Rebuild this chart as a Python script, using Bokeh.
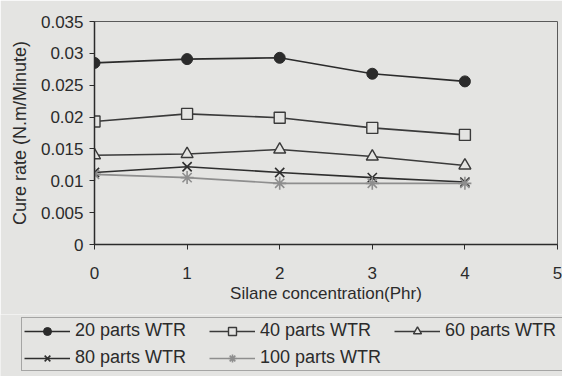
from bokeh.plotting import figure
from bokeh.models import Legend, LegendItem, FixedTicker, Range1d
from bokeh.embed import file_html
from bokeh.resources import INLINE

silane = [0, 1, 2, 3, 4]
wtr20 = [0.0285, 0.0291, 0.0293, 0.0268, 0.0256]
wtr40 = [0.0193, 0.0205, 0.0199, 0.0183, 0.0172]
wtr60 = [0.0140, 0.0142, 0.0149, 0.0138, 0.0124]
wtr80 = [0.0113, 0.0122, 0.0113, 0.0105, 0.0098]
wtr100 = [0.0110, 0.0105, 0.0096, 0.0096, 0.0096]
names = ["20 parts WTR", "40 parts WTR", "60 parts WTR", "80 parts WTR", "100 parts WTR"]
x_ticks = [0, 1, 2, 3, 4, 5]
y_ticks = [0, 0.005, 0.01, 0.015, 0.02, 0.025, 0.03, 0.035]
y_tick_labels = ["0", "0.005", "0.01", "0.015", "0.02", "0.025", "0.03", "0.035"]

BG = "#e4e4e2"
INK = "#2b2b2b"
FONT = "Liberation Sans"

p = figure(width=562, height=314, output_backend="svg", toolbar_location=None,
           x_range=Range1d(0, 5), y_range=Range1d(0, 0.035),
           min_border_left=94, min_border_right=5, min_border_top=21, min_border_bottom=70)
p.background_fill_color = BG
p.border_fill_color = BG
p.outline_line_color = "#5a5a5a"
p.outline_line_width = 1
p.xgrid.grid_line_color = None
p.ygrid.grid_line_color = None

for ax in (p.xaxis[0], p.yaxis[0]):
    ax.axis_line_color = INK
    ax.axis_line_width = 1.5
    ax.major_tick_line_color = INK
    ax.major_tick_in = 0
    ax.major_tick_out = 5
    ax.minor_tick_line_color = None
    ax.major_label_text_font = FONT
    ax.major_label_text_font_size = "17px"
    ax.major_label_text_color = INK
    ax.axis_label_text_font = FONT
    ax.axis_label_text_font_style = "normal"
    ax.axis_label_text_color = INK

p.xaxis.ticker = FixedTicker(ticks=x_ticks)
p.yaxis.ticker = FixedTicker(ticks=y_ticks)
p.yaxis.major_label_overrides = {t: l for t, l in zip(y_ticks, y_tick_labels)}
p.xaxis.axis_label = "Silane concentration(Phr)"
p.yaxis.axis_label = "Cure rate (N.m/Minute)"
p.xaxis.axis_label_text_font_size = "17px"
p.yaxis.axis_label_text_font_size = "18px"
p.xaxis.major_label_standoff = 17
p.xaxis.axis_label_standoff = 2
p.yaxis.major_label_standoff = 6
p.yaxis.axis_label_standoff = 8

# strip under the chart carrying the legend (same series drawn off-range, only for legend glyphs)
lg = figure(width=562, height=62, output_backend="svg", toolbar_location=None,
            x_range=Range1d(100, 101), y_range=Range1d(100, 101),
            x_axis_location=None, y_axis_location=None,
            min_border_left=0, min_border_right=0, min_border_top=0, min_border_bottom=0)
lg.background_fill_color = BG
lg.border_fill_color = BG
lg.outline_line_color = None
lg.xgrid.grid_line_color = None
lg.ygrid.grid_line_color = None

series = [wtr20, wtr40, wtr60, wtr80, wtr100]
markers = ["circle", "square", "triangle", "x", "asterisk"]
colors = [INK, "#3a3a3a", "#3a3a3a", "#2e2e2e", "#8e8e8e"]
sizes = [11, 11, 12, 13, 13]
items = []


def draw(fig, ys, mk, col, sz):
    ln = fig.line(silane, ys, line_color=col, line_width=1.6)
    if mk == "circle":
        sc = fig.scatter(silane, ys, marker=mk, size=sz, fill_color=col, line_color=col)
    elif mk in ("square", "triangle"):
        sc = fig.scatter(silane, ys, marker=mk, size=sz, fill_color=BG, line_color=col, line_width=1.4)
    else:
        sc = fig.scatter(silane, ys, marker=mk, size=sz, line_color=col, line_width=1.6)
    return ln, sc


for name, ys, mk, col, sz in zip(names, series, markers, colors, sizes):
    draw(p, ys, mk, col, sz)
    ln, sc = draw(lg, ys, mk, col, sz)
    items.append(LegendItem(label=name, renderers=[ln, sc]))

legend = Legend(items=items, location=(21, 5), orientation="horizontal", ncols=3,
                background_fill_color=BG, background_fill_alpha=1,
                border_line_color="#666666", border_line_width=1,
                label_text_font=FONT, label_text_font_size="18px", label_text_color=INK,
                glyph_width=46, glyph_height=20, label_standoff=5, label_width=128,
                spacing=6, padding=2, margin=0, label_height=20)
lg.add_layout(legend, "center")

open("out.html", "w").write(file_html([p, lg], INLINE))
